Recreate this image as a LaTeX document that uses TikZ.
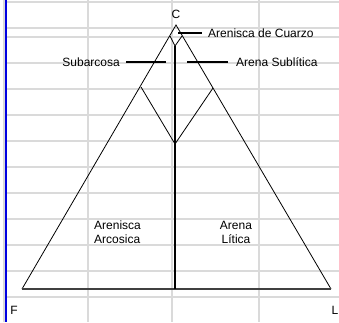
\documentclass[tikz,border=0pt]{standalone}
\usepackage{fontspec}
\setmainfont{Liberation Sans}

\begin{document}
\begin{tikzpicture}[x=1pt, y=-1pt, font=\fontsize{12}{14}\selectfont,
	lbl/.style={inner sep=0pt},
	leader/.style={line width=2pt},
	side/.style={line width=0.8pt}]
	% Gesamtgröße (in px, y nach unten)
	\def\W{339}
	\def\H{322}
	
	% Farben
	\definecolor{gridgray}{RGB}{218, 218, 218}
	\definecolor{selblue}{RGB}{0, 0, 225}
	
	\useasboundingbox[fill=white] (0,0) rectangle (\W,\H);
	
	% Tabellengitter
	\foreach \y in {2,28,37,63,89,115,141,167,193,219,245,271,297}
		\draw[gridgray, line width=1.6pt] (7,\y) -- (\W,\y);
	\foreach \x in {4,88,172,259}
		\draw[gridgray, line width=1.6pt] (\x,0) -- (\x,\H);
	\fill[selblue] (5,0) rectangle (7,\H);
	
	% Ecken des Dreiecks
	\coordinate (C) at (176,25);
	\coordinate (F) at (22,289);
	\coordinate (L) at (331,289);
	\coordinate (M) at (175,289);
	
	% kleine Raute oben
	\coordinate (q1) at (170,36);
	\coordinate (q2) at (175,46);
	\coordinate (q3) at (182,36);
	
	% große Raute
	\coordinate (s1) at (141,87);
	\coordinate (s2) at (175,144);
	\coordinate (s3) at (213,88);
	
	% Dreieck
	\draw[side] (F) -- (C) -- (L);
	\draw[black!75, line width=1.6pt] (F) -- (L);
	\draw[side] (q1) -- (q2) -- (q3);
	\draw[side] (s1) -- (s2) -- (s3);
	\draw[line width=2pt] (q2) -- (M);
	
	% Ecken-Beschriftung
	\node[lbl] (labC) at (176,14) {C};
	\node[lbl] (labF) at (14,310) {F};
	\node[lbl] (labL) at (335,310) {L};
	
	% Felder
	\node[lbl, anchor=west] (cuarzo) at (208,33) {Arenisca de Cuarzo};
	\node[lbl, anchor=east] (subarcosa) at (120,62) {Subarcosa};
	\node[lbl, anchor=west] (sublitica) at (236,62) {Arena Sublítica};
	\node[lbl, align=left, anchor=west] (arcosica) at (94,232) {Arenisca\\Arcosica};
	\node[lbl, align=center] (litica) at (236,232) {Arena\\Lítica};
	
	% Hinweislinien
	\coordinate (p1) at (178,33);
	\coordinate (p2) at (166,62);
	\coordinate (p3) at (187,62);
	\draw[leader, shorten >=6pt] (p1) -- (p1 -| cuarzo.west);
	\draw[leader, shorten >=6pt] (p2) -- (p2 -| subarcosa.east);
	\draw[leader, shorten >=8pt] (p3) -- (p3 -| sublitica.west);
\end{tikzpicture}
\end{document}
